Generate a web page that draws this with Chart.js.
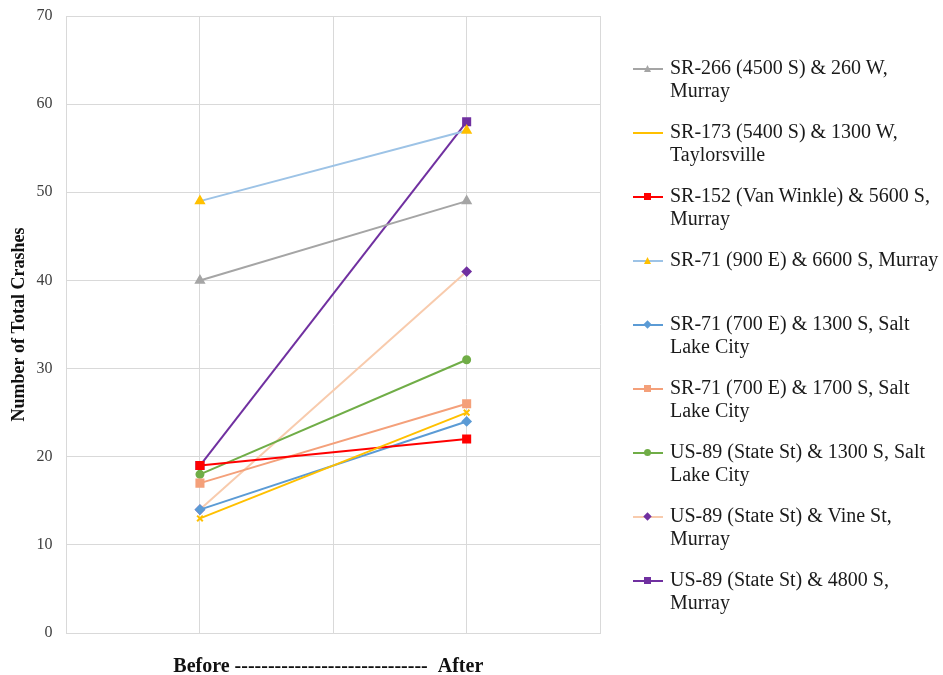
<!DOCTYPE html>
<html>
<head>
<meta charset="utf-8">
<script src="https://cdn.jsdelivr.net/npm/chart.js@4/dist/chart.umd.min.js"></script>
<style>
    body { margin: 0; background: #fff; }
    #wrap { position: relative; width: 943px; height: 675px; }
    #legend { position: absolute; left: 633px; top: 56px; font-family: 'Liberation Serif', serif; font-size: 20px; color: #1a1a1a; }
    .item { display: flex; height: 64px; }
    .key { position: relative; width: 30px; height: 23px; margin-right: 7px; flex: none; }
    .key .ln { position: absolute; left: 0; right: 0; top: 12px; height: 2px; }
    .key .mk { position: absolute; left: 11px; top: 9px; width: 7px; height: 7px; }
    .txt { line-height: 23px; white-space: nowrap; }
</style>
</head>
<body>
<div id="wrap">
    <canvas id="chart" width="943" height="675"></canvas>
    <div id="legend"></div>
</div>
<script>
const xLabels = ['', 'Before', '', 'After', ''];
const seriesNames = [
    ['SR-266 (4500 S) & 260 W,', 'Murray'],
    ['SR-173 (5400 S) & 1300 W,', 'Taylorsville'],
    ['SR-152 (Van Winkle) & 5600 S,', 'Murray'],
    ['SR-71 (900 E) & 6600 S, Murray'],
    ['SR-71 (700 E) & 1300 S, Salt', 'Lake City'],
    ['SR-71 (700 E) & 1700 S, Salt', 'Lake City'],
    ['US-89 (State St) & 1300 S, Salt', 'Lake City'],
    ['US-89 (State St) & Vine St,', 'Murray'],
    ['US-89 (State St) & 4800 S,', 'Murray']
];
const beforeValues = [40, 13, 19, 49, 14, 17, 18, 14, 19];
const afterValues = [49, 25, 22, 57, 24, 26, 31, 41, 58];
const lineColors = ['#A5A5A5', '#FFC000', '#FF0000', '#9DC3E6', '#5B9BD5', '#F4A07A', '#70AD47', '#F8CBAD', '#7030A0'];
const markerColors = ['#A5A5A5', '#FFC000', '#FF0000', '#FFC000', '#5B9BD5', '#F4A07A', '#70AD47', '#7030A0', '#7030A0'];
const markerStyles = ['triangle', 'crossRot', 'rect', 'triangle', 'rectRot', 'rect', 'circle', 'rectRot', 'rect'];
const yTicks = [0, 10, 20, 30, 40, 50, 60, 70];

const gridColor = '#D9D9D9';
const serif = 'Liberation Serif';
const radiusFor = { triangle: 4.5, crossRot: 4, rect: 5, rectRot: 4, circle: 3.5 };

const datasets = seriesNames.map((name, i) => ({
    label: name.join(' '),
    data: [null, beforeValues[i], null, afterValues[i], null],
    borderColor: lineColors[i],
    backgroundColor: markerColors[i],
    pointBackgroundColor: markerColors[i],
    pointBorderColor: markerColors[i],
    pointStyle: markerStyles[i],
    pointRadius: radiusFor[markerStyles[i]],
    borderWidth: 2,
    spanGaps: true,
    tension: 0
}));

const chart = new Chart(document.getElementById('chart'), {
    type: 'line',
    data: { labels: xLabels, datasets: datasets },
    options: {
        responsive: false,
        animation: false,
        layout: { padding: { top: 2, right: 343, bottom: 0, left: 0 } },
        plugins: { legend: { display: false }, tooltip: { enabled: false } },
        scales: {
            x: {
                offset: false,
                grid: { color: gridColor, drawTicks: false },
                border: { color: gridColor },
                ticks: { display: false },
                title: {
                    display: true,
                    // trailing spaces nudge the centred title a little left, as in the original
                    text: 'Before -----------------------------  After  ',
                    color: '#111',
                    font: { family: serif, size: 20, weight: 'bold' },
                    padding: { top: 22, bottom: -4 }
                }
            },
            y: {
                min: 0,
                max: 70,
                afterBuildTicks: axis => { axis.ticks = yTicks.map(v => ({ value: v })); },
                grid: { color: gridColor, drawTicks: false },
                border: { color: gridColor },
                // small lineHeight keeps the tick padding from pushing the plot top down
                ticks: { color: '#404040', padding: 14, font: { family: serif, size: 16, lineHeight: 0.25 } },
                title: {
                    display: true,
                    text: 'Number of Total Crashes',
                    color: '#111',
                    font: { family: serif, size: 18, weight: 'bold' },
                    padding: { top: 9, bottom: -8 }
                }
            }
        }
    }
});

// right-hand legend built from the chart's datasets
const legend = document.getElementById('legend');
chart.data.datasets.forEach((ds, i) => {
    const item = document.createElement('div');
    item.className = 'item';
    const key = document.createElement('div');
    key.className = 'key';
    const ln = document.createElement('div');
    ln.className = 'ln';
    ln.style.background = ds.borderColor;
    key.appendChild(ln);
    if (ds.pointStyle !== 'crossRot') {
        const mk = document.createElement('div');
        mk.className = 'mk';
        mk.style.background = ds.pointBackgroundColor;
        if (ds.pointStyle === 'triangle') mk.style.clipPath = 'polygon(50% 0, 100% 100%, 0 100%)';
        if (ds.pointStyle === 'circle') mk.style.borderRadius = '50%';
        if (ds.pointStyle === 'rectRot') mk.style.transform = 'rotate(45deg) scale(0.85)';
        key.appendChild(mk);
    }
    const txt = document.createElement('div');
    txt.className = 'txt';
    txt.innerHTML = seriesNames[i].join('<br>');
    item.appendChild(key);
    item.appendChild(txt);
    legend.appendChild(item);
});
</script>
</body>
</html>
